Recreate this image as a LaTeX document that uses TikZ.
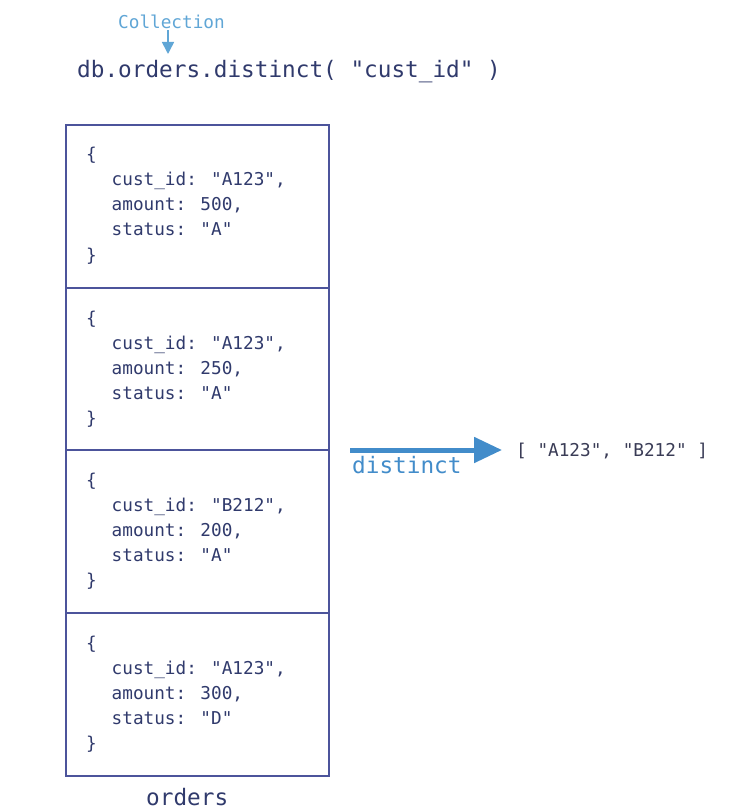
\documentclass[tikz,border=0pt]{standalone}
\usepackage{fontspec}
\newfontfamily\codefont{DejaVu Sans Mono}
\usetikzlibrary{arrows.meta}
\definecolor{boxline}{RGB}{76,84,155}
\definecolor{navy}{RGB}{48,58,108}
\definecolor{resgray}{RGB}{58,60,86}
\definecolor{lightblue}{RGB}{96,166,214}
\definecolor{arrowblue}{RGB}{66,140,202}
\tikzset{
  recbox/.style={draw=boxline, line width=1.6pt, rectangle, inner sep=0pt,
    minimum width=263pt, anchor=north west},
  code/.style={font=\codefont\fontsize{17.7}{24}\selectfont, text=navy, inner sep=0pt, anchor=base west},
  head/.style={font=\codefont\fontsize{22.7}{27}\selectfont, text=navy, inner sep=0pt, anchor=base west},
}
\newcommand\docrec[6]{%
  \node[recbox, minimum height=#6pt] (box#1) at (65,#2) {};
  \node[code] (ob#1) at ([xshift=21pt,yshift=-37pt]box#1.north west) {\{};
  \node[code] (id#1) at ([xshift=46.5pt,yshift=-62pt]box#1.north west) {cust\_id: "#3",};
  \node[code] (am#1) at ([xshift=46.5pt,yshift=-87pt]box#1.north west) {amount: #4,};
  \node[code] (st#1) at ([xshift=46.5pt,yshift=-112pt]box#1.north west) {status: "#5"};
  \node[code] (cb#1) at ([xshift=21pt,yshift=-137pt]box#1.north west) {\}};
}
\begin{document}
\begin{tikzpicture}[x=1pt,y=-1pt]
\useasboundingbox[fill=white] (0,0) rectangle (737,810);
\node[code, text=lightblue] (coll) at (118,29) {Collection};
\node[head] (cmd) at (77,78) {db.orders.distinct( "cust\_id" )};
\coordinate (collend) at (168,54);
\draw[lightblue, line width=1.6pt, -{Triangle[length=12pt,width=12pt]}] (coll.south -| collend) ++(0,1) -- (collend);
\docrec{1}{124}{A123}{500}{A}{163}
\docrec{2}{287}{A123}{250}{A}{162}
\docrec{3}{449}{B212}{200}{A}{163}
\docrec{4}{612}{A123}{300}{D}{163}
\node[head] (orders) at (146,805) {orders};
\coordinate (arrstart) at (350,450);
\coordinate (arrend) at (502,450);
\draw[arrowblue, line width=5pt, -{Triangle[length=28pt,width=25pt]}] (arrstart) -- (arrend);
\node[head, text=arrowblue] (dist) at (352,473) {distinct};
\node[code, text=resgray] (res) at (516,456) {[ "A123", "B212" ]};
\end{tikzpicture}
\end{document}
